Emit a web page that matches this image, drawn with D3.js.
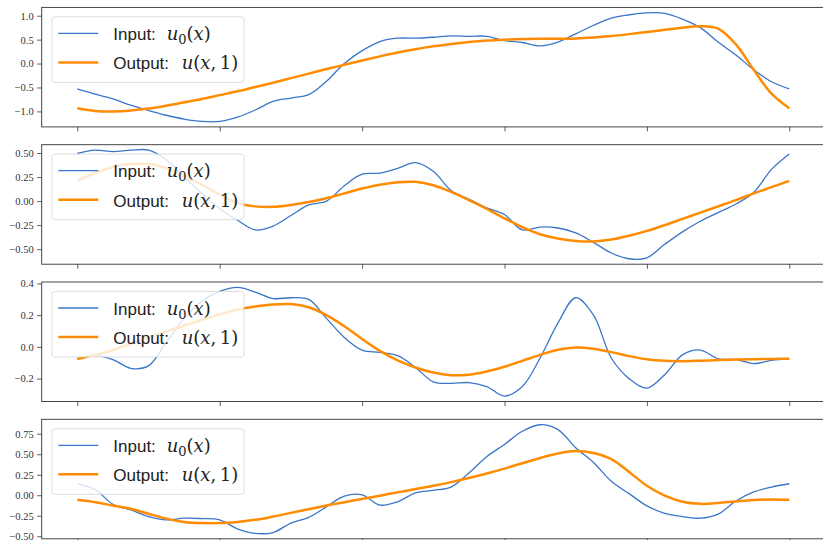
<!DOCTYPE html>
<html>
<head>
<meta charset="utf-8">
<script src="https://cdn.jsdelivr.net/npm/d3@7"></script>
<style>
body { margin: 0; background: #fff; }
svg { display: block; }
.axis line { stroke: #333; stroke-width: 0.8; }
</style>
</head>
<body>
<div class="chart"></div>
<script>
'use strict';

// sample positions along x (0..1)
const xs = [0, 0.025, 0.05, 0.075, 0.1, 0.125, 0.15, 0.175, 0.2, 0.225, 0.25, 0.275, 0.3, 0.325, 0.35, 0.375,
  0.4, 0.425, 0.45, 0.475, 0.5, 0.525, 0.55, 0.575, 0.6, 0.625, 0.65, 0.675, 0.7, 0.725, 0.75, 0.775,
  0.8, 0.825, 0.85, 0.875, 0.9, 0.925, 0.95, 0.975, 1];

const input1 = [-0.53, -0.64, -0.74, -0.87, -0.98, -1.08, -1.16, -1.21, -1.21, -1.12, -0.97, -0.79, -0.72, -0.65, -0.37, 0.0,
  0.27, 0.46, 0.53, 0.53, 0.55, 0.58, 0.57, 0.57, 0.48, 0.44, 0.37, 0.45, 0.62, 0.80, 0.95, 1.02,
  1.06, 1.05, 0.93, 0.75, 0.45, 0.18, -0.13, -0.38, -0.53];
const output1 = [-0.935, -0.99, -1.0, -0.98, -0.94, -0.88, -0.81, -0.74, -0.66, -0.58, -0.49, -0.40, -0.305, -0.21, -0.115, -0.025,
  0.065, 0.15, 0.23, 0.30, 0.36, 0.41, 0.45, 0.48, 0.50, 0.515, 0.52, 0.52, 0.525, 0.545, 0.575, 0.615,
  0.66, 0.705, 0.75, 0.78, 0.73, 0.40, -0.13, -0.63, -0.935];

const input2 = [0.495, 0.53, 0.515, 0.53, 0.53, 0.43, 0.25, 0.08, -0.08, -0.20, -0.30, -0.26, -0.15, -0.04, 0.0, 0.16,
  0.28, 0.29, 0.34, 0.40, 0.31, 0.11, 0.02, -0.07, -0.14, -0.30, -0.27, -0.28, -0.33, -0.43, -0.54, -0.60,
  -0.59, -0.45, -0.32, -0.21, -0.12, -0.03, 0.09, 0.33, 0.49];
const output2 = [0.215, 0.29, 0.355, 0.385, 0.385, 0.34, 0.26, 0.17, 0.07, -0.02, -0.055, -0.06, -0.04, -0.01, 0.03, 0.08,
  0.13, 0.17, 0.195, 0.20, 0.165, 0.095, 0.01, -0.08, -0.18, -0.27, -0.345, -0.39, -0.415, -0.42, -0.40, -0.36,
  -0.31, -0.25, -0.185, -0.12, -0.055, 0.01, 0.08, 0.145, 0.21];

const input3 = [-0.076, -0.055, -0.08, -0.135, -0.12, 0.03, 0.18, 0.29, 0.35, 0.375, 0.345, 0.305, 0.31, 0.30, 0.18, 0.06,
  -0.02, -0.035, -0.055, -0.13, -0.22, -0.23, -0.225, -0.25, -0.31, -0.25, -0.07, 0.15, 0.31, 0.20, -0.07, -0.20,
  -0.26, -0.175, -0.05, -0.02, -0.075, -0.08, -0.105, -0.085, -0.074];
const output3 = [-0.076, -0.05, -0.02, 0.02, 0.06, 0.097, 0.135, 0.17, 0.205, 0.235, 0.255, 0.268, 0.27, 0.25, 0.20, 0.13,
  0.05, -0.025, -0.085, -0.13, -0.162, -0.178, -0.175, -0.155, -0.125, -0.088, -0.05, -0.018, -0.004, -0.012, -0.033, -0.058,
  -0.078, -0.088, -0.09, -0.087, -0.083, -0.08, -0.078, -0.076, -0.074];

const input4 = [0.14, 0.07, -0.11, -0.18, -0.26, -0.30, -0.28, -0.285, -0.30, -0.41, -0.465, -0.455, -0.34, -0.27, -0.14, -0.01,
  0.005, -0.12, -0.08, 0.03, 0.06, 0.10, 0.27, 0.47, 0.62, 0.78, 0.86, 0.80, 0.58, 0.40, 0.17, 0.02,
  -0.13, -0.22, -0.26, -0.28, -0.23, -0.07, 0.04, 0.10, 0.14];
const output4 = [-0.056, -0.085, -0.125, -0.165, -0.225, -0.285, -0.325, -0.34, -0.34, -0.325, -0.30, -0.26, -0.215, -0.17, -0.125, -0.085,
  -0.045, -0.005, 0.035, 0.075, 0.115, 0.16, 0.21, 0.265, 0.325, 0.39, 0.455, 0.51, 0.54, 0.515, 0.44, 0.285,
  0.115, -0.005, -0.08, -0.105, -0.095, -0.075, -0.058, -0.052, -0.056];

const xTicks = [0, 0.2, 0.4, 0.6, 0.8, 1.0];
const yTicks1 = [-1.0, -0.5, 0.0, 0.5, 1.0];
const yTicks2 = [-0.5, -0.25, 0.0, 0.25, 0.5];
const yTicks3 = [-0.2, 0.0, 0.2, 0.4];
const yTicks4 = [-0.5, -0.25, 0.0, 0.25, 0.5, 0.75];

const panels = [
  {input: input1, output: output1, ticks: yTicks1, fmt: d3.format('.1f')},
  {input: input2, output: output2, ticks: yTicks2, fmt: d3.format('.2f')},
  {input: input3, output: output3, ticks: yTicks3, fmt: d3.format('.1f')},
  {input: input4, output: output4, ticks: yTicks4, fmt: d3.format('.2f')},
];

const width = 823;
const height = 540;
const axLeft = 41.7;
const axTop = 7.4;
const axHeight = 119.5;
const axStep = 137.3;
const blue = '#3a76c8';
const orange = '#ff8c00';
const serif = "'Liberation Serif', 'Times New Roman', serif";

const xScale = d3.scaleLinear()
  .domain([-0.05, 1.05])
  .range([axLeft, 824.9]);

const svg = d3.select('.chart').append('svg')
  .attr('width', width)
  .attr('height', height);

function drawPanel(p, k) {
  const top = axTop + k * axStep;
  const all = p.input.concat(p.output);
  const lo = d3.min(all);
  const hi = d3.max(all);
  const pad = (hi - lo) * 0.05;
  const yScale = d3.scaleLinear()
    .domain([lo - pad, hi + pad])
    .range([top + axHeight, top]);

  const g = svg.append('g').attr('class', 'panel');

  const line = d3.line()
    .x((d, i) => xScale(xs[i]))
    .y(d => yScale(d))
    .curve(d3.curveCatmullRom.alpha(0.5));

  g.append('path')
    .datum(p.input)
    .attr('fill', 'none')
    .attr('stroke', blue)
    .attr('stroke-width', 1.3)
    .attr('d', line);

  g.append('path')
    .datum(p.output)
    .attr('fill', 'none')
    .attr('stroke', orange)
    .attr('stroke-width', 2.5)
    .attr('d', line);

  // axes
  g.append('g')
    .attr('class', 'axis')
    .attr('transform', `translate(${axLeft},0)`)
    .call(d3.axisLeft(yScale).tickValues(p.ticks).tickFormat(p.fmt).tickSize(4.5).tickPadding(3.5))
    .call(a => a.select('.domain').remove())
    .call(a => a.selectAll('text')
      .attr('font-family', serif)
      .attr('font-size', 10.5)
      .attr('fill', '#333'));

  g.append('g')
    .attr('class', 'axis')
    .attr('transform', `translate(0,${top + axHeight})`)
    .call(d3.axisBottom(xScale).tickValues(xTicks).tickFormat('').tickSize(4.5))
    .call(a => a.select('.domain').remove());

  g.append('rect')
    .attr('x', axLeft)
    .attr('y', top)
    .attr('width', 824.9 - axLeft)
    .attr('height', axHeight)
    .attr('fill', 'none')
    .attr('stroke', '#333')
    .attr('stroke-width', 0.9);

  drawLegend(g, top);
}

function drawLegend(g, top) {
  const lg = g.append('g').attr('class', 'legend');
  lg.append('rect')
    .attr('x', axLeft + 10.3)
    .attr('y', top + 9.4)
    .attr('width', 192)
    .attr('height', 65.6)
    .attr('rx', 3)
    .attr('fill', '#fff')
    .attr('fill-opacity', 0.8)
    .attr('stroke', '#d4d4d4')
    .attr('stroke-width', 0.8);

  const rows = [
    {color: blue, w: 1.3, label: 'Input:', cy: 26, base: 32.7, mathX: 166.7,
      math: [['u', 'i'], ['0', 's'], ['(', 'r'], ['x', 'i'], [')', 'r']]},
    {color: orange, w: 2.5, label: 'Output:', cy: 55, base: 62, mathX: 181.7,
      math: [['u', 'i'], ['(', 'r'], ['x', 'i'], [',', 'r'], ['1', 'r'], [')', 'r']]},
  ];

  rows.forEach(r => {
    lg.append('line')
      .attr('x1', 58.3).attr('x2', 98.3)
      .attr('y1', top + r.cy).attr('y2', top + r.cy)
      .attr('stroke', r.color)
      .attr('stroke-width', r.w);

    lg.append('text')
      .attr('x', 113.3)
      .attr('y', top + r.base)
      .attr('font-family', 'Liberation Sans, Arial, sans-serif')
      .attr('font-size', 17)
      .attr('fill', '#222')
      .text(r.label);

    const t = lg.append('text')
      .attr('x', r.mathX)
      .attr('y', top + r.base)
      .attr('font-family', 'DejaVu Serif, serif')
      .attr('font-size', 18)
      .attr('fill', '#222');
    let shifted = false;
    r.math.forEach(([s, kind]) => {
      const ts = t.append('tspan').text(s);
      if (kind === 'i') ts.attr('font-style', 'italic');
      if (kind === 's') {
        ts.attr('font-size', 13).attr('dy', 4);
        shifted = true;
      } else if (shifted) {
        ts.attr('dy', -4);
        shifted = false;
      }
      if (s === ',') ts.text(',\u2009');
    });
  });
}

panels.forEach(drawPanel);
</script>
</body>
</html>
